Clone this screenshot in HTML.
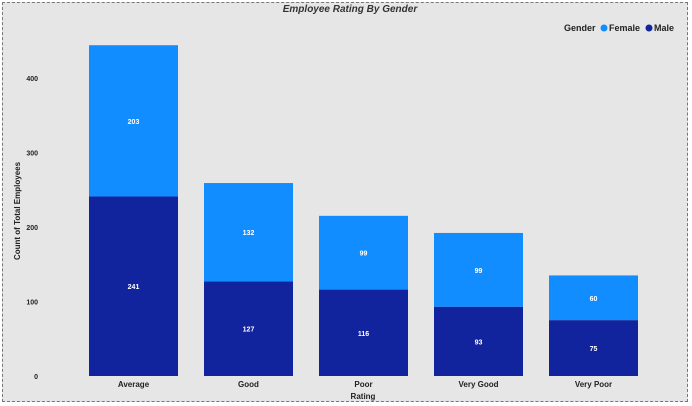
<!DOCTYPE html>
<html><head><style>
body{margin:0;width:692px;height:406px;overflow:hidden;background:#fff;font-family:"Liberation Sans",sans-serif;}
#wrap{position:absolute;left:2px;top:2px;width:686px;height:400px;background:#e6e6e6;border:1px dashed #777;box-sizing:border-box;}
</style></head><body>
<div id="wrap"></div>
<svg id="c" width="692" height="406" style="position:absolute;left:0;top:0">
<text x="350" y="12" text-anchor="middle" font-size="10" font-style="italic" font-weight="bold" fill="#333">Employee Rating By Gender</text>
<g>
<text x="564" y="31" font-size="9" font-weight="bold" fill="#222">Gender</text>
<circle cx="604" cy="28" r="3.5" fill="#118DFF"/>
<text x="609" y="31" font-size="9" font-weight="bold" fill="#222">Female</text>
<circle cx="649" cy="28" r="3.5" fill="#12239E"/>
<text x="654" y="31" font-size="9" font-weight="bold" fill="#222">Male</text>
</g>
<text transform="translate(20,211) rotate(-90)" text-anchor="middle" font-size="8" font-weight="bold" fill="#222">Count of Total Employees</text>
<text x="363" y="399" text-anchor="middle" font-size="8" font-weight="bold" fill="#222">Rating</text>
<g id="plot"></g>
</svg>
<script>
const categories=["Average","Good","Poor","Very Good","Very Poor"];
const male=[241,127,116,93,75];
const female=[203,132,99,99,60];
const yTicks=[0,100,200,300,400];
const NS="http://www.w3.org/2000/svg";
const g=document.getElementById('plot');
const y0=376,scale=0.745;
function y(v){return y0-v*scale;}
function x(i){return 89+i*115;}
const bw=89;
function mk(tag,attrs,txt){const e=document.createElementNS(NS,tag);for(const k in attrs)e.setAttribute(k,attrs[k]);if(txt!==undefined)e.textContent=txt;g.appendChild(e);return e;}
yTicks.forEach(t=>{
 const e=mk('text',{x:38,y:y(t)+3,'text-anchor':'end','font-size':7,'font-weight':'bold',fill:'#222'},t);
 
 
});
categories.forEach((c,i)=>{
 const m=mk('rect',{x:x(i),y:y(male[i]),width:bw,height:male[i]*scale,fill:'#12239E'});
 
 
 const f=mk('rect',{x:x(i),y:y(male[i]+female[i]),width:bw,height:female[i]*scale,fill:'#118DFF'});
 
 
 const ml=mk('text',{x:x(i)+bw/2,y:y(male[i]/2)+3,'text-anchor':'middle','font-size':7,'font-weight':'bold',fill:'#fff'},male[i]);
 
 
 const fl=mk('text',{x:x(i)+bw/2,y:y(male[i]+female[i]/2)+3,'text-anchor':'middle','font-size':7,'font-weight':'bold',fill:'#fff'},female[i]);
 
 
 const xl=mk('text',{x:x(i)+bw/2,y:387,'text-anchor':'middle','font-size':8,'font-weight':'bold',fill:'#222'},c);
 
 
});
</script>
</body></html>
